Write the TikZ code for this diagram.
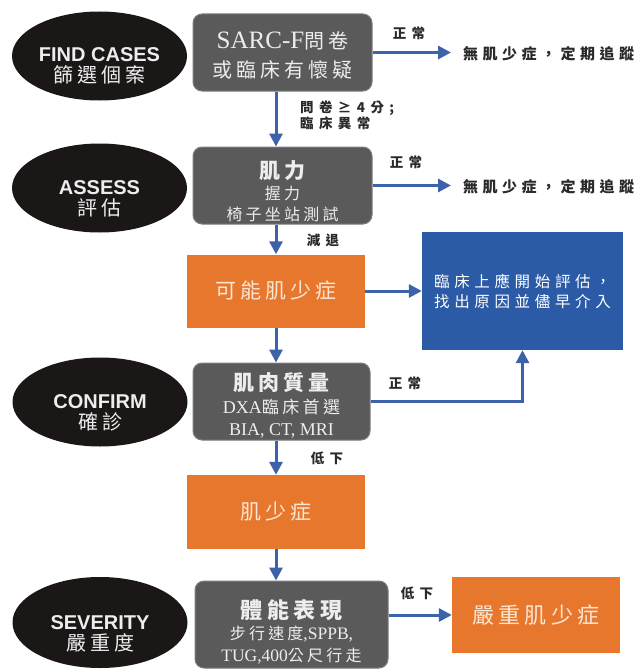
\documentclass[tikz,border=0pt]{standalone}
\usepackage{fontspec}
\setmainfont{Liberation Serif}
\newfontfamily\hsans{Liberation Sans}
\newfontfamily\cjk[LetterSpace=20]{Noto Sans CJK TC}
\newfontfamily\cjkm[LetterSpace=30]{Noto Sans CJK TC}
\newfontfamily\cjks[LetterSpace=40]{Noto Sans CJK TC}
\usetikzlibrary{shapes.geometric,arrows.meta}
\definecolor{boxgray}{HTML}{5A5A5A}
\definecolor{boxedge}{HTML}{7E7E7E}
\definecolor{orng}{HTML}{E8772E}
\definecolor{blu}{HTML}{2B5BA6}
\definecolor{arr}{HTML}{3C62AA}
\definecolor{ellfill}{HTML}{1C1717}
\definecolor{ltgray}{HTML}{EDEDED}
\definecolor{cream}{HTML}{FBE6D2}
\definecolor{ink}{HTML}{2A2A2A}
\begin{document}
\begin{tikzpicture}[x=1pt,y=-1pt,
  phase/.style={ellipse, fill=ellfill, minimum width=175pt, minimum height=89pt, inner sep=0pt},
  phasetext/.style={text=ltgray, align=center, inner sep=0pt, font=\fontsize{20}{21}\selectfont},
  graybox/.style={rectangle, rounded corners=9pt, fill=boxgray, draw=boxedge, line width=1pt, minimum width=179pt, minimum height=77pt, inner sep=0pt},
  boxtext/.style={text=ltgray, align=center, inner sep=0pt},
  orangebox/.style={rectangle, fill=orng, text=cream, minimum width=178pt, minimum height=73pt, inner sep=0pt, font=\cjk\fontsize{21}{24}\selectfont},
  bluebox/.style={rectangle, fill=blu, text=white, align=center, minimum width=201pt, minimum height=118pt, inner sep=0pt, font=\cjkm\fontsize{15.5}{20}\selectfont},
  outcome/.style={anchor=west, inner xsep=12pt, inner ysep=0pt, text=ink, font=\cjkm\bfseries\fontsize{15}{18}\selectfont},
  lbl/.style={inner sep=0pt, text=ink, font=\cjks\bfseries\fontsize{13.5}{13}\selectfont},
  flow/.style={draw=arr, line width=3pt, -{Triangle[width=13pt,length=13pt]}}
]
\useasboundingbox (0,0) rectangle (642,669);
\fill[white] (0,0) rectangle (642,669);

% phase ellipses
\node[phase] (e1) at (99.5,56) {};
\node[phasetext] (e1t) at (99.5,66) {{\hsans\bfseries FIND CASES}\\{\cjk 篩選個案}};
\node[phase] (e2) at (99.5,188) {};
\node[phasetext] (e2t) at (99.5,199) {{\hsans\bfseries ASSESS}\\{\cjk 評估}};
\node[phase] (e3) at (100,402) {};
\node[phasetext] (e3t) at (100,412.5) {{\hsans\bfseries CONFIRM}\\{\cjk 確診}};
\node[phase, minimum height=91pt] (e4) at (100,622.5) {};
\node[phasetext] (e4t) at (100,634) {{\hsans\bfseries SEVERITY}\\{\cjk 嚴重度}};

% gray boxes
\node[graybox] (b1) at (282.5,52.5) {};
\node[boxtext, font=\fontsize{20}{29}\selectfont] (b1t) at (282.5,55.5)
  {{\fontsize{25}{29}\selectfont SARC-F}{\cjk 問卷}\\{\cjk 或臨床有懷疑}};
\node[graybox] (b2) at (282.5,185.5) {};
\node[boxtext, font=\cjk\fontsize{16}{21}\selectfont] (b2t) at (282.5,191)
  {{\bfseries\fontsize{21}{21}\selectfont 肌力}\\握力\\椅子坐站測試};
\node[graybox, minimum width=177pt] (b3) at (281.5,401.5) {};
\node[boxtext, font=\fontsize{18}{22.5}\selectfont] (b3t) at (281.5,405.5)
  {{\cjk\bfseries\fontsize{21}{22.5}\selectfont 肌肉質量}\\DXA{\cjk\fontsize{17}{22.5}\selectfont 臨床首選}\\BIA, CT, MRI};
\node[graybox, minimum width=193pt, minimum height=87pt] (b4) at (291.5,624.5) {};
\node[boxtext, font=\fontsize{17.5}{21.5}\selectfont] (b4t) at (291.5,631.5)
  {{\cjk\bfseries\fontsize{22}{21.5}\selectfont 體能表現}\\{\cjk\fontsize{16}{21.5}\selectfont 步行速度},SPPB,\\TUG,400{\cjk\fontsize{16}{21.5}\selectfont 公尺行走}};

% coloured result boxes
\node[orangebox] (o1) at (276,291) {可能肌少症};
\node[bluebox] (bl) at (522.5,291) {臨床上應開始評估，\\找出原因並儘早介入};
\node[orangebox, minimum height=74pt] (o2) at (276,512) {肌少症};
\node[orangebox, minimum width=168pt, minimum height=76pt, font=\cjk\fontsize{22}{24}\selectfont] (o3) at (536,615) {嚴重肌少症};

% outcomes
\node[outcome] (t1) at (451,54) {無肌少症，定期追蹤};
\node[outcome] (t2) at (451,186.5) {無肌少症，定期追蹤};

% connectors
\draw[flow] (b1.east) -- (b1.east -| t1.west);
\draw[flow] (b2.east) -- (b2.east -| t2.west);
\draw[flow] (b1.south -| o1.north) -- (b2.north -| o1.north);
\draw[flow] (b2.south -| o1.north) -- (o1.north);
\draw[flow] (o1.east) -- (bl.west);
\draw[flow] (o1.south) -- (b3.north -| o1.south);
\draw[flow] (b3.east) -| (bl.south);
\draw[flow] (b3.south -| o2.north) -- (o2.north);
\draw[flow] (o2.south) -- (b4.north -| o2.south);
\draw[flow] (b4.east |- o3.west) -- (o3.west);

% connector labels
\node[lbl] (l1) at (409,33) {正常};
\node[lbl] (l2) at (406,162) {正常};
\node[lbl] (l3) at (405,383) {正常};
\node[lbl, anchor=north west, align=left] (lq) at (300,101) {問卷≥4分;\\臨床異常};
\node[lbl] (l4) at (323,240) {減退};
\node[lbl] (l5) at (327,458) {低下};
\node[lbl] (l6) at (417,593) {低下};
\end{tikzpicture}
\end{document}
